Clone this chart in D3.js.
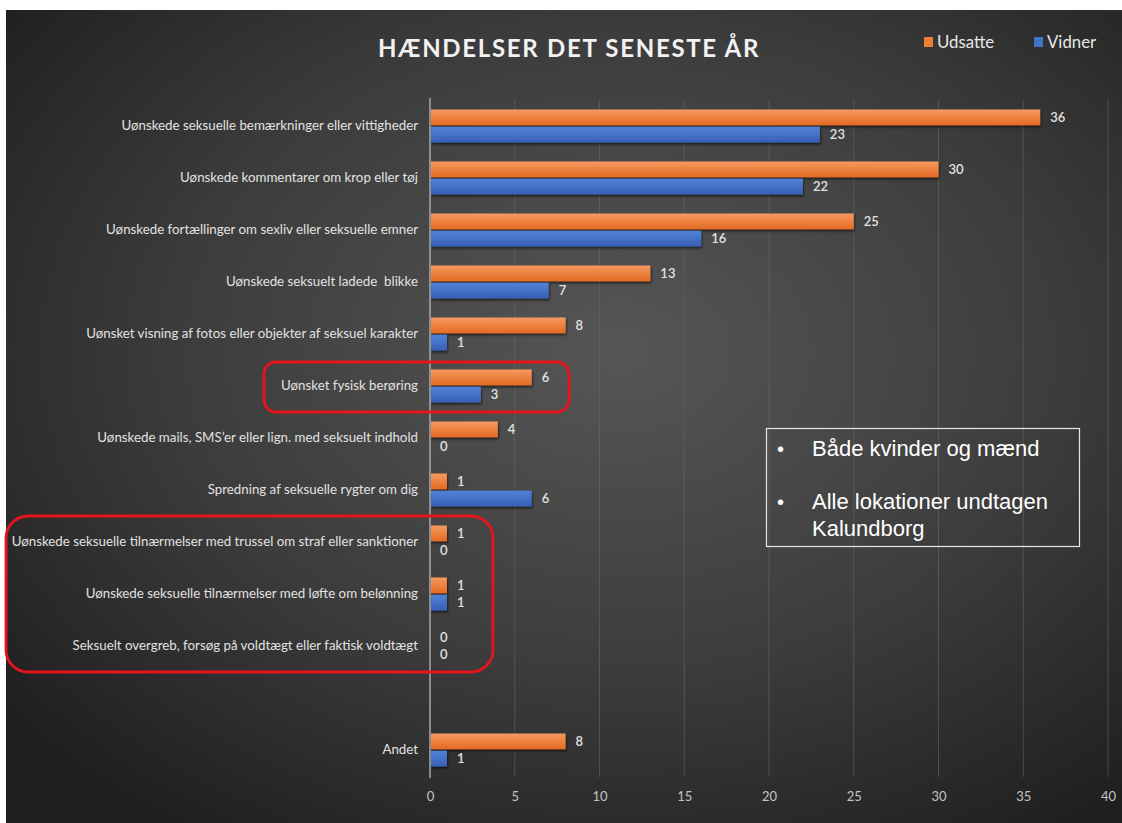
<!DOCTYPE html>
<html>
<head>
<meta charset="utf-8">
<script src="https://cdn.jsdelivr.net/npm/d3@7"></script>
<style>
  html, body { margin: 0; padding: 0; background: #ffffff; }
  svg { display: block; }
</style>
</head>
<body>
<script>
const categories = [
  "Uønskede seksuelle bemærkninger eller vittigheder",
  "Uønskede kommentarer om krop eller tøj",
  "Uønskede fortællinger om sexliv eller seksuelle emner",
  "Uønskede seksuelt ladede  blikke",
  "Uønsket visning af fotos eller objekter af seksuel karakter",
  "Uønsket fysisk berøring",
  "Uønskede mails, SMS’er eller lign. med seksuelt indhold",
  "Spredning af seksuelle rygter om dig",
  "Uønskede seksuelle tilnærmelser med trussel om straf eller sanktioner",
  "Uønskede seksuelle tilnærmelser med løfte om belønning",
  "Seksuelt overgreb, forsøg på voldtægt eller faktisk voldtægt",
  "",
  "Andet"
];
const seriesNames = ["Udsatte", "Vidner"];
const udsatte = [36, 30, 25, 13, 8, 6, 4, 1, 1, 1, 0, null, 8];
const vidner  = [23, 22, 16, 7, 1, 3, 0, 6, 0, 1, 0, null, 1];
const xTicks = [0, 5, 10, 15, 20, 25, 30, 35, 40];
const title = "HÆNDELSER DET SENESTE ÅR";
const noteLines = [["•", "Både kvinder og mænd"], ["•", "Alle lokationer undtagen"], ["", "Kalundborg"]];

const W = 1122, H = 823;
const svg = d3.select("body").append("svg").attr("width", W).attr("height", H);
const defs = svg.append("defs");

const bg = defs.append("radialGradient").attr("id", "bg")
  .attr("cx", "55%").attr("cy", "42%").attr("r", "72%");
bg.append("stop").attr("offset", "0%").attr("stop-color", "#565656");
bg.append("stop").attr("offset", "55%").attr("stop-color", "#3c3c3c");
bg.append("stop").attr("offset", "100%").attr("stop-color", "#1e1e1e");

const og = defs.append("linearGradient").attr("id", "gOr").attr("x1", 0).attr("y1", 0).attr("x2", 0).attr("y2", 1);
og.append("stop").attr("offset", "0%").attr("stop-color", "#f59a60");
og.append("stop").attr("offset", "100%").attr("stop-color", "#e46a22");
const bgr = defs.append("linearGradient").attr("id", "gBl").attr("x1", 0).attr("y1", 0).attr("x2", 0).attr("y2", 1);
bgr.append("stop").attr("offset", "0%").attr("stop-color", "#5283d6");
bgr.append("stop").attr("offset", "100%").attr("stop-color", "#365fb6");

const sh = defs.append("filter").attr("id", "shadow").attr("x", "-5%").attr("y", "-20%").attr("width", "115%").attr("height", "160%");
sh.append("feDropShadow").attr("dx", 1).attr("dy", 2).attr("stdDeviation", 1).attr("flood-color", "#000").attr("flood-opacity", 0.55);

svg.append("rect").attr("x", 6).attr("y", 10).attr("width", W - 6).attr("height", H - 10).attr("fill", "url(#bg)");

const x = d3.scaleLinear().domain([0, 40]).range([430, 1108]);
const y0 = d3.scaleBand().domain(d3.range(categories.length)).range([100, 776])
  .paddingInner(0.365).paddingOuter(0.1825);
const y1 = d3.scaleBand().domain(seriesNames).range([0, y0.bandwidth()]).paddingInner(0.08);
const colors = { "Udsatte": "url(#gOr)", "Vidner": "url(#gBl)" };
const legendColors = { "Udsatte": "#ee7d35", "Vidner": "#4472c4" };

// grid lines
svg.append("g").selectAll("line").data(xTicks.filter(t => t > 0)).join("line")
  .attr("x1", d => x(d)).attr("x2", d => x(d)).attr("y1", 100).attr("y2", 777)
  .attr("stroke", "#6a6a6a").attr("stroke-opacity", 0.55).attr("stroke-width", 1);

// x axis tick labels
const xAxis = d3.axisBottom(x).tickValues(xTicks).tickSize(0).tickPadding(0);
const gx = svg.append("g").attr("transform", "translate(0,789)").call(xAxis);
gx.select(".domain").remove();
gx.selectAll("text").attr("fill", "#c4c4c4").attr("font-family", "Lato, sans-serif").attr("font-size", 13).attr("dy", "0.9em");

// category axis
const yAxis = d3.axisLeft(y0).tickSize(0).tickPadding(12).tickFormat(i => categories[i]);
const gy = svg.append("g").attr("transform", "translate(430,0)").call(yAxis);
gy.select(".domain").remove();
gy.selectAll("text").attr("fill", "#e2e2e2").attr("font-family", "Lato, sans-serif").attr("font-size", 13.3)
  .style("white-space", "pre");

// bars
const rows = categories.map((c, i) => ({ i, vals: [
  { s: "Udsatte", v: udsatte[i] }, { s: "Vidner", v: vidner[i] }] }));
const grp = svg.append("g").selectAll("g").data(rows).join("g")
  .attr("transform", d => `translate(0,${y0(d.i)})`);
grp.selectAll("rect").data(d => d.vals.filter(v => v.v !== null && v.v > 0)).join("rect")
  .attr("x", x(0) + 1).attr("y", d => y1(d.s)).attr("height", y1.bandwidth())
  .attr("width", d => x(d.v) - x(0) - 1).attr("fill", d => colors[d.s])
  .attr("filter", "url(#shadow)");
grp.selectAll("text").data(d => d.vals.filter(v => v.v !== null)).join("text")
  .attr("x", d => x(d.v) + 10).attr("y", d => y1(d.s) + y1.bandwidth() / 2)
  .attr("dy", "0.35em").attr("fill", "#e2e2e2")
  .attr("font-family", "Lato, sans-serif").attr("font-size", 13).attr("font-weight", 600)
  .text(d => d.v);

// axis line
svg.append("line").attr("x1", x(0)).attr("x2", x(0)).attr("y1", 98).attr("y2", 778)
  .attr("stroke", "#a8a8a8").attr("stroke-width", 1.5);

// title
svg.append("text").attr("x", 569).attr("y", 57).attr("text-anchor", "middle")
  .attr("fill", "#f2f2f2").attr("font-family", "Lato, sans-serif").attr("font-weight", 700)
  .attr("font-size", 24).attr("letter-spacing", 1.7).text(title);

// legend
const lg = svg.append("g").selectAll("g").data(seriesNames).join("g")
  .attr("transform", (d, i) => `translate(${[924, 1034][i]},37)`);
lg.append("rect").attr("width", 9).attr("height", 10).attr("fill", d => legendColors[d]);
lg.append("text").attr("x", 13).attr("y", 10.5).attr("fill", "#e8e8e8")
  .attr("font-family", "Lato, sans-serif").attr("font-size", 16.8).text(d => d);

// note box
svg.append("rect").attr("x", 766.5).attr("y", 428.5).attr("width", 313).attr("height", 118)
  .attr("fill", "none").attr("stroke", "#e6e6e6").attr("stroke-width", 1.2);
const noteY = [456, 509, 536];
const nt = svg.append("g").selectAll("g").data(noteLines).join("g")
  .attr("transform", (d, i) => `translate(0,${noteY[i]})`);
nt.append("text").attr("x", 777).attr("fill", "#ffffff")
  .attr("font-family", "Liberation Sans, Arial, sans-serif").attr("font-size", 20).text(d => d[0]);
nt.append("text").attr("x", 812).attr("fill", "#ffffff")
  .attr("font-family", "Liberation Sans, Arial, sans-serif").attr("font-size", 22).text(d => d[1]);

// red highlight frames
svg.append("rect").attr("x", 264).attr("y", 362).attr("width", 305).attr("height", 50).attr("rx", 12)
  .attr("fill", "none").attr("stroke", "#e8141c").attr("stroke-width", 2.8);
svg.append("rect").attr("x", 6).attr("y", 516).attr("width", 487).attr("height", 156).attr("rx", 22)
  .attr("fill", "none").attr("stroke", "#e8141c").attr("stroke-width", 2.8);
</script>
</body>
</html>
